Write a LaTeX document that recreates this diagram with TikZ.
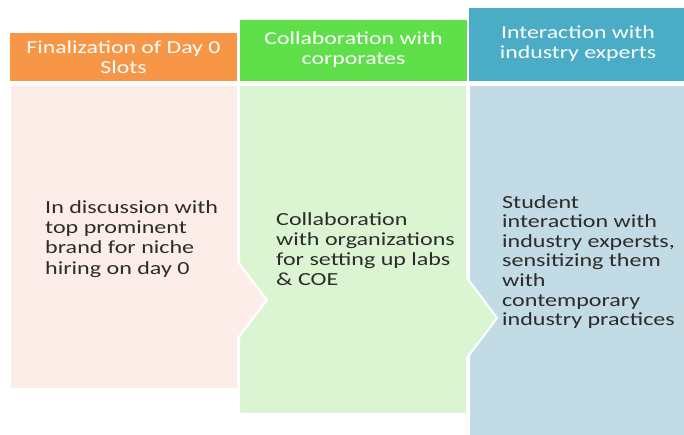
\documentclass[tikz,border=0pt]{standalone}
\usepackage{fontspec}
\setmainfont{Carlito}
\newfontfamily\wfont[FakeStretch=1.3]{Carlito}
\definecolor{hdrOrange}{HTML}{F79646}
\definecolor{hdrGreen}{HTML}{5FE04B}
\definecolor{hdrBlue}{HTML}{4BACC6}
\definecolor{bodyPink}{HTML}{FDEDE9}
\definecolor{bodyGreen}{HTML}{DBF5D3}
\definecolor{bodyBlue}{HTML}{C2DBE4}
\definecolor{txtGray}{HTML}{2C2C2C}
\begin{document}
\begin{tikzpicture}[x=1pt,y=-1pt,
  hdr/.style={inner sep=0pt, align=center, text=white, font=\wfont\fontsize{18.3}{20}\selectfont},
  bodytxt/.style={inner sep=0pt, align=left, anchor=west, text=txtGray, font=\wfont\fontsize{18.5}{20.2}\selectfont},
  panel/.style={draw=white, line width=2pt, line join=miter}]
\useasboundingbox (0,0) rectangle (684,435);
% bodies
\path[panel, fill=bodyBlue] (469,85) rectangle (686,437);
\path[panel, fill=bodyGreen] (239,85) -- (467,85) -- (467,278) -- (497,318) -- (467,358) -- (467,414) -- (239,414) -- cycle;
\path[panel, fill=bodyPink] (10,85) -- (238,85) -- (238,262) -- (267,300) -- (238,338) -- (238,389) -- (10,389) -- cycle;
% headers
\fill[hdrOrange] (10,33) rectangle (237,81);
\fill[hdrGreen] (240,20) rectangle (467,81);
\fill[hdrBlue] (469,8) rectangle (684,81);
\node[hdr] (h1) at (123.5,57) {Finalization of Day 0\\Slots};
\node[hdr] (h2) at (353.5,50) {Collaboration with\\corporates};
\node[hdr] (h3) at (578,44) {Interaction with\\industry experts};
% body texts
\node[bodytxt] (b1) at (45,239) {In discussion with\\top prominent\\brand for niche\\hiring on day 0};
\node[bodytxt] (b2) at (276,249) {Collaboration\\with organizations\\for setting up labs\\\& COE};
\node[bodytxt, font=\wfont\fontsize{18.5}{19.6}\selectfont] (b3) at (502,262) {Student\\interaction with\\industry expersts,\\sensitizing them\\with\\contemporary\\industry practices};
\end{tikzpicture}
\end{document}
